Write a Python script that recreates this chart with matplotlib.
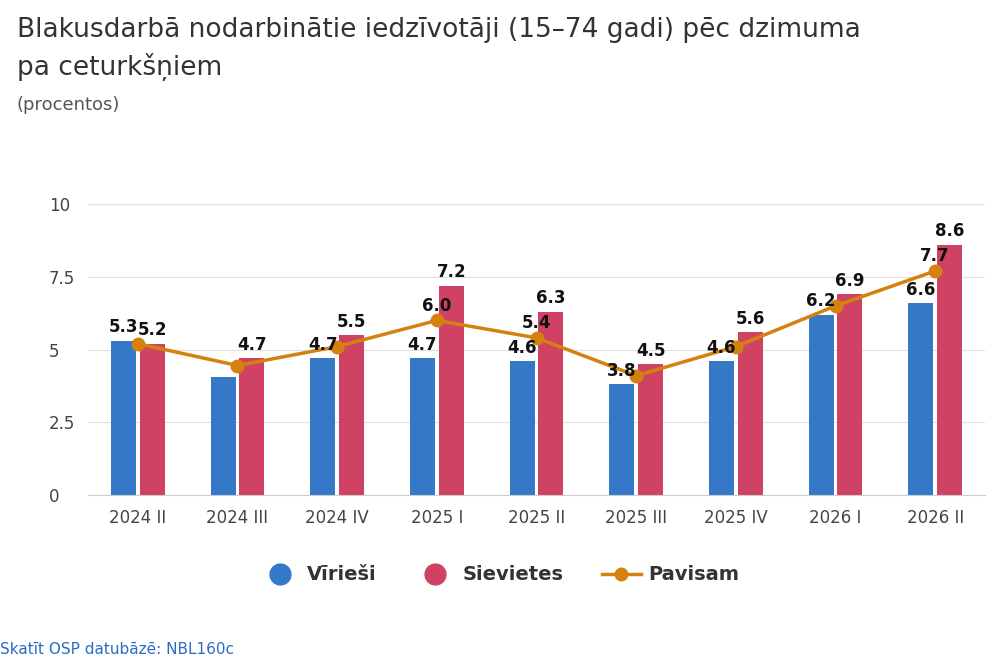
import matplotlib
matplotlib.use("Agg")
import matplotlib.pyplot as plt
import numpy as np

categories = ["2024 II","2024 III","2024 IV","2025 I","2025 II","2025 III","2025 IV","2026 I","2026 II"]
men = [5.3, 4.05, 4.7, 4.7, 4.6, 3.8, 4.6, 6.2, 6.6]
women = [5.2, 4.7, 5.5, 7.2, 6.3, 4.5, 5.6, 6.9, 8.6]
total = [5.2, 4.45, 5.1, 6.0, 5.4, 4.1, 5.1, 6.5, 7.7]
men_lbl = [True, False, True, True, True, True, True, True, True]
tot_lbl = [False, False, False, True, True, False, False, False, True]

plt.rcParams['font.family'] = ['DejaVu Sans']
fig = plt.figure(figsize=(10, 6.67), dpi=100)
ax = fig.add_axes([0.088, 0.258, 0.897, 0.436])
x = np.arange(len(categories))
w = 0.25
cm, cw, ct = "#3578c8", "#cf4264", "#d4820f"
ax.bar(x - w/2 - 0.02, men, w, color=cm, zorder=2)
ax.bar(x + w/2 + 0.02, women, w, color=cw, zorder=2)
ax.plot(x, total, color=ct, lw=2.5, marker='o', ms=9, zorder=3)
kw = dict(ha='center', va='bottom', fontsize=12, fontweight='bold', color='#111')
for i in x:
    if men_lbl[i]:
        ax.text(i - w/2 - 0.02, men[i] + 0.15, f"{men[i]:.1f}", **kw)
    ax.text(i + w/2 + 0.02, women[i] + 0.15, f"{women[i]:.1f}", **kw)
    if tot_lbl[i]:
        ax.text(i, total[i] + 0.2, f"{total[i]:.1f}", **kw)
ax.set_xlim(-0.5, len(categories) - 0.5)
ax.set_ylim(0, 10)
ax.set_yticks([0, 2.5, 5, 7.5, 10])
ax.set_yticklabels(["0", "2.5", "5", "7.5", "10"])
ax.set_xticks(x)
ax.set_xticklabels(categories)
ax.tick_params(axis='both', length=0, labelsize=12, labelcolor='#444')
ax.tick_params(axis='x', pad=10)
ax.tick_params(axis='y', pad=28)
for lbl in ax.get_yticklabels():
    lbl.set_horizontalalignment('left')
ax.grid(axis='y', color='#e0e0e0', zorder=0)
for s in ['top', 'right', 'left']:
    ax.spines[s].set_visible(False)
ax.spines['bottom'].set_color('#ccc')

fig.text(0.017, 0.955, "Blakusdarbā nodarbinātie iedzīvotāji (15–74 gadi) pēc dzimuma", fontsize=19, color='#333', va='center')
fig.text(0.017, 0.9, "pa ceturkšņiem", fontsize=19, color='#333', va='center')
fig.text(0.017, 0.842, "(procentos)", fontsize=13, color='#555', va='center')
fig.text(0.0, 0.02, "Skatīt OSP datubāzē: NBL160c", fontsize=11, color='#2a6cc4')

from matplotlib.lines import Line2D
handles = [Line2D([], [], ls='none', marker='o', ms=15, color=cm),
           Line2D([], [], ls='none', marker='o', ms=15, color=cw),
           Line2D([], [], color=ct, lw=2.5, marker='o', ms=9)]
leg = fig.legend(handles, ["Vīrieši", "Sievietes", "Pavisam"], loc='center', bbox_to_anchor=(0.5, 0.138),
                 ncol=3, frameon=False, prop={'size': 14, 'weight': 'bold'}, handletextpad=0.4, columnspacing=2.0)
for t in leg.get_texts():
    t.set_color('#333')
fig.savefig("out.png")
